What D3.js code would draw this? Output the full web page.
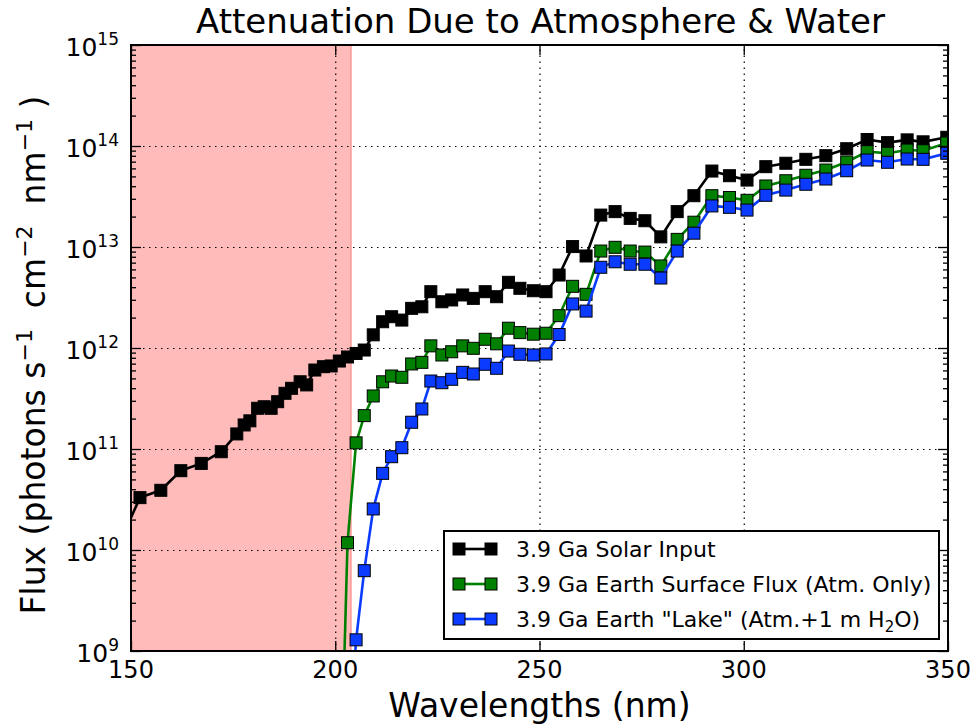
<!DOCTYPE html>
<html><head><meta charset="utf-8">
<script src="https://cdn.jsdelivr.net/npm/d3@7"></script>
<style>body{margin:0;background:#fff}svg{display:block;font-family:"DejaVu Sans",sans-serif}</style>
</head><body><svg id="c" width="979" height="728"></svg>
<script>
// ---- data ----
const solarWl = [147.3,152.2,157.3,162.2,167.2,172.1,175.9,177.7,179.1,181.0,182.6,184.3,185.9,187.7,189.3,191.4,193.0,195.0,197.1,199.0,
  201.0,203.0,205.1,207.1,209.3,211.6,213.8,216.3,218.7,221.2,223.4,226.1,228.5,231.2,233.8,236.7,239.5,242.4,245.2,248.5,251.6,254.8,
  258.1,261.4,265.0,268.5,272.2,275.8,279.7,283.7,287.8,292.2,296.5,300.8,305.4,310.3,315.2,320.1,325.2,330.2,335.2,340.0,343.9,349.7];
const solarFlux = [1.2e10,3.3e10,3.9e10,6.1e10,7.2e10,9.4e10,1.41e11,1.73e11,1.9e11,2.53e11,2.62e11,2.53e11,2.94e11,3.56e11,3.99e11,4.63e11,4.31e11,6.05e11,6.53e11,6.64e11,
  7.43e11,8.15e11,8.83e11,9.55e11,1.35e12,1.82e12,2.04e12,1.89e12,2.47e12,2.56e12,3.61e12,2.87e12,2.99e12,3.35e12,3.10e12,3.61e12,3.22e12,4.47e12,3.90e12,3.69e12,3.61e12,5.28e12,
  1.01e13,8.15e12,2.07e13,2.24e13,1.92e13,1.82e13,1.26e13,2.24e13,3.22e13,5.65e13,5.08e13,4.60e13,6.24e13,6.75e13,7.38e13,8.02e13,9.40e13,1.16e14,1.08e14,1.15e14,1.10e14,1.22e14];
const surfWl = [201.0,203.0,205.1,207.1,209.3,211.6,213.8,216.3,218.7,221.2,223.4,226.1,228.5,231.2,233.8,236.7,239.5,242.4,245.2,248.5,251.6,254.8,
  258.1,261.4,265.0,268.5,272.2,275.8,279.7,283.7,287.8,292.2,296.5,300.8,305.4,310.3,315.2,320.1,325.2,330.2,335.2,340.0,343.9,349.7];
const surfFlux = [1.3e7,1.18e10,1.15e11,2.14e11,3.35e11,4.63e11,5.28e11,5.13e11,6.95e11,7.21e11,1.05e12,8.53e11,9.18e11,1.05e12,9.93e11,1.22e12,1.10e12,1.57e12,1.42e12,1.37e12,1.40e12,2.09e12,
  4.08e12,3.40e12,9.12e12,9.93e12,9.12e12,8.91e12,6.49e12,1.19e13,1.76e13,3.22e13,3.09e13,2.90e13,4.02e13,4.53e13,5.13e13,5.78e13,6.95e13,8.79e13,8.47e13,9.12e13,8.97e13,1.07e14];
const lakeFlux = [3e5,6e7,1.29e9,6.24e9,2.55e10,5.74e10,8.39e10,1.03e11,1.84e11,2.49e11,4.71e11,4.53e11,4.90e11,5.74e11,5.53e11,6.90e11,6.30e11,9.33e11,8.67e11,8.53e11,8.73e11,1.36e12,
  2.73e12,2.32e12,6.30e12,7.14e12,6.75e12,6.75e12,4.93e12,9.12e12,1.37e13,2.55e13,2.47e13,2.32e13,3.25e13,3.66e13,4.18e13,4.71e13,5.69e13,7.26e13,6.90e13,7.43e13,7.38e13,8.47e13];
const seriesNames = ["3.9 Ga Solar Input","3.9 Ga Earth Surface Flux (Atm. Only)","3.9 Ga Earth \"Lake\" (Atm.+1 m H\u2082O)"];
const seriesColors = ["#000000","#008000","#0b3bff"];
const xTicks = [150,200,250,300,350];
const yExps = [9,10,11,12,13,14,15];
const shadeRange = [150,203.9];
const titleText = "Attenuation Due to Atmosphere & Water";
const xLabel = "Wavelengths (nm)";

// ---- layout ----
const L=131,R=948,T=45,B=651;
const svg=d3.select("#c");
const x=d3.scaleLinear().domain([150,350]).range([L,R]);
const y=d3.scaleLog().domain([1e9,1e15]).range([B,T]);

svg.append("defs").append("clipPath").attr("id","clip").append("rect")
  .attr("x",L).attr("y",T).attr("width",R-L).attr("height",B-T);

// shaded region
svg.append("rect").attr("x",x(shadeRange[0])).attr("y",T)
  .attr("width",x(shadeRange[1])-x(shadeRange[0])).attr("height",B-T)
  .attr("fill","rgba(255,0,0,0.27)");
svg.append("line").attr("x1",x(shadeRange[1])).attr("x2",x(shadeRange[1])).attr("y1",T).attr("y2",B)
  .attr("stroke","rgba(255,0,0,0.27)").attr("stroke-width",1.5);

// grid
const majorsY=yExps.map(e=>Math.pow(10,e));
const gridX=svg.append("g").attr("transform",`translate(0,${B})`)
  .call(d3.axisBottom(x).tickValues(xTicks.slice(1,-1)).tickSize(-(B-T)).tickFormat(""));
const gridY=svg.append("g").attr("transform",`translate(${L},0)`)
  .call(d3.axisLeft(y).tickValues(majorsY.slice(1,-1)).tickSize(-(R-L)).tickFormat(""));
[gridX,gridY].forEach(g=>{g.select(".domain").remove();
  g.selectAll("line").attr("stroke","#000").attr("stroke-width",1.2).attr("stroke-dasharray","1.5,4.5");});

// series
const data=[
  solarWl.map((w,i)=>[w,solarFlux[i]]),
  surfWl.map((w,i)=>[w,surfFlux[i]]),
  surfWl.map((w,i)=>[w,lakeFlux[i]])
];
const line=d3.line().x(d=>x(d[0])).y(d=>y(d[1]));
const plot=svg.append("g").attr("clip-path","url(#clip)");
const ms=12;
data.forEach((s,k)=>{
  const g=plot.append("g");
  g.append("path").attr("d",line(s)).attr("fill","none").attr("stroke",seriesColors[k]).attr("stroke-width",2.6);
  g.selectAll("rect").data(s).enter().append("rect")
    .attr("x",d=>x(d[0])-ms/2).attr("y",d=>y(d[1])-ms/2).attr("width",ms).attr("height",ms)
    .attr("fill",seriesColors[k]).attr("stroke","#000").attr("stroke-width",1);
});

// axes with inward ticks on all sides
function styleAxis(g){g.select(".domain").remove();g.selectAll("line").attr("stroke","#000").attr("stroke-width",1.3);}
const minorsY=[];
for(let e=9;e<15;e++)for(let m=2;m<=9;m++)minorsY.push(m*Math.pow(10,e));
styleAxis(svg.append("g").attr("transform",`translate(0,${B})`).call(d3.axisBottom(x).tickValues(xTicks).tickSize(-10).tickFormat("")));
styleAxis(svg.append("g").attr("transform",`translate(0,${T})`).call(d3.axisTop(x).tickValues(xTicks).tickSize(-10).tickFormat("")));
styleAxis(svg.append("g").attr("transform",`translate(${L},0)`).call(d3.axisLeft(y).tickValues(majorsY).tickSize(-10).tickFormat("")));
styleAxis(svg.append("g").attr("transform",`translate(${R},0)`).call(d3.axisRight(y).tickValues(majorsY).tickSize(-10).tickFormat("")));
styleAxis(svg.append("g").attr("transform",`translate(${L},0)`).call(d3.axisLeft(y).tickValues(minorsY).tickSize(-5).tickFormat("")));
styleAxis(svg.append("g").attr("transform",`translate(${R},0)`).call(d3.axisRight(y).tickValues(minorsY).tickSize(-5).tickFormat("")));

// frame
svg.append("rect").attr("x",L).attr("y",T).attr("width",R-L).attr("height",B-T)
  .attr("fill","none").attr("stroke","#000").attr("stroke-width",2);

// tick labels
xTicks.forEach(v=>{
  svg.append("text").attr("x",x(v)).attr("y",B+27).attr("text-anchor","middle")
    .attr("font-size",24).text(v);
});
yExps.forEach(e=>{
  const t=svg.append("text").attr("x",L-12).attr("y",y(Math.pow(10,e))+11).attr("text-anchor","end").attr("font-size",25);
  t.append("tspan").text("10");
  t.append("tspan").attr("dy",-11).attr("font-size",17).text(e);
});

// titles
svg.append("text").attr("x",(L+R)/2+1).attr("y",33).attr("text-anchor","middle").attr("font-size",34).text(titleText);
svg.append("text").attr("x",(L+R)/2).attr("y",717).attr("text-anchor","middle").attr("font-size",33).text(xLabel);
const yl=svg.append("text").attr("transform",`translate(45,355) rotate(-90)`).attr("text-anchor","middle").attr("font-size",33)
  .attr("xml:space","preserve").style("white-space","pre");
yl.append("tspan").text("Flux (photons s");
yl.append("tspan").attr("dy",-13).attr("font-size",22).text("\u22121");
yl.append("tspan").attr("dy",13).text("  cm");
yl.append("tspan").attr("dy",-13).attr("font-size",22).text("\u22122");
yl.append("tspan").attr("dy",13).text("  nm");
yl.append("tspan").attr("dy",-13).attr("font-size",22).text("\u22121");
yl.append("tspan").attr("dy",13).text(" )");

// legend
const lg=svg.append("g");
lg.append("rect").attr("x",444).attr("y",531).attr("width",495).attr("height",108)
  .attr("fill","#fff").attr("stroke","#000").attr("stroke-width",2);
seriesNames.forEach((n,k)=>{
  const cy=549+k*35;
  lg.append("line").attr("x1",459).attr("x2",491).attr("y1",cy).attr("y2",cy)
    .attr("stroke",seriesColors[k]).attr("stroke-width",2.6);
  [459,491].forEach(cx=>lg.append("rect").attr("x",cx-ms/2).attr("y",cy-ms/2).attr("width",ms).attr("height",ms)
    .attr("fill",seriesColors[k]).attr("stroke","#000").attr("stroke-width",1));
  const t=lg.append("text").attr("x",516).attr("y",cy+8).attr("font-size",22);
  if(k<2){t.text(n);}
  else{
    t.append("tspan").text("3.9 Ga Earth \"Lake\" (Atm.+1 m H");
    t.append("tspan").attr("dy",5).attr("font-size",15).text("2");
    t.append("tspan").attr("dy",-5).text("O)");
  }
});
</script></body></html>
